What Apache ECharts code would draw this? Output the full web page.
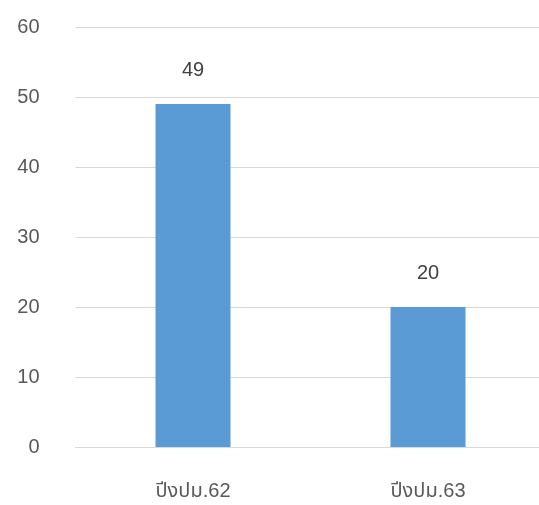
<!DOCTYPE html>
<html>
<head>
<meta charset="utf-8">
<script src="https://cdn.jsdelivr.net/npm/echarts@6/dist/echarts.min.js"></script>
<style>html,body{margin:0;padding:0;background:#fff;}#c{width:539px;height:505px;}</style>
</head>
<body>
<div id="c"></div>
<script>
const categories = ['ปีงปม.62', 'ปีงปม.63'];
const values = [49, 20];
const yTicks = [0, 10, 20, 30, 40, 50, 60];

const FONT = '"Liberation Sans", "Noto Sans Thai", "Loma", "Garuda", sans-serif';
const chart = echarts.init(document.getElementById('c'), null, {renderer: 'canvas'});
chart.setOption({
  animation: false,
  grid: {left: 75.5, top: 27, width: 470, height: 420, outerBoundsMode: 'none', containLabel: false},
  xAxis: {
    type: 'category',
    data: categories,
    axisLine: {lineStyle: {color: '#d9d9d9', width: 1}},
    axisTick: {show: false},
    axisLabel: {color: '#595959', fontSize: 20, margin: 34, fontFamily: FONT}
  },
  yAxis: {
    type: 'value',
    min: yTicks[0], max: yTicks[yTicks.length - 1], interval: 10,
    axisLine: {show: false},
    axisTick: {show: false},
    splitLine: {lineStyle: {color: '#d9d9d9', width: 1}},
    axisLabel: {color: '#595959', fontSize: 20, margin: 36, fontFamily: FONT}
  },
  series: [{
    type: 'bar',
    data: values,
    barWidth: 75,
    itemStyle: {color: '#5B9BD5'},
    label: {show: true, position: 'top', distance: 24, color: '#404040', fontSize: 20, fontFamily: FONT}
  }]
});
</script>
</body>
</html>
